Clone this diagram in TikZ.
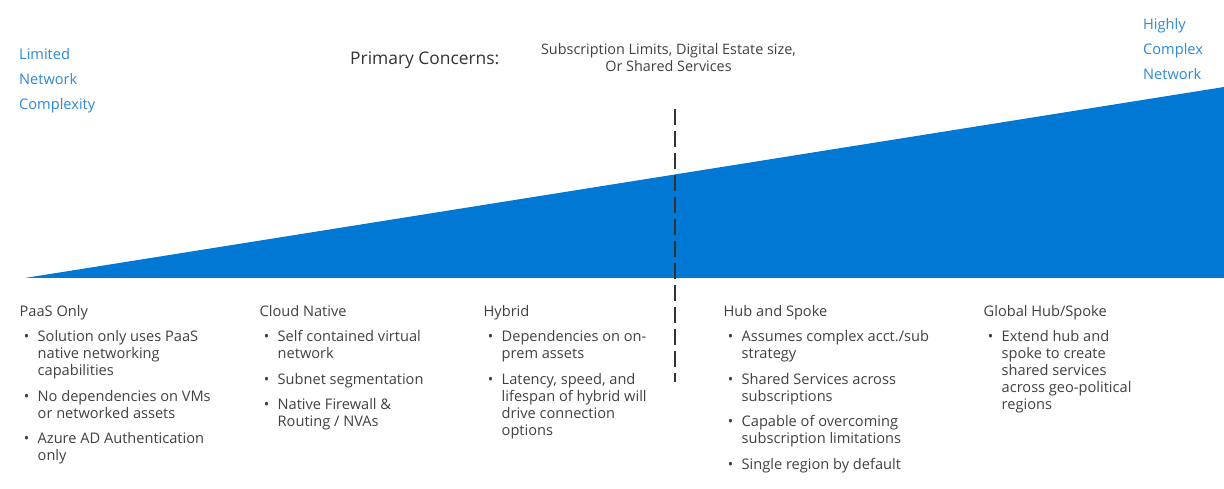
\documentclass[tikz,border=0pt]{standalone}
\usepackage{fontspec}
\setmainfont{Open Sans}
\usepackage{tikz}
\usetikzlibrary{positioning}
\definecolor{azblue}{HTML}{0078D4}
\definecolor{lblue}{HTML}{2B88D8}
\definecolor{txtgray}{HTML}{404040}
\definecolor{dashgray}{HTML}{333333}
\newcommand{\bul}{\llap{\textbullet\hspace{8.3pt}}}
\tikzset{
    colhead/.style={anchor=base west,inner sep=0pt,text=txtgray,font=\fontsize{14.6}{17}\selectfont},
    collist/.style={anchor=base west,inner sep=0pt,align=left,text=txtgray,font=\fontsize{14.6}{17}\selectfont},
    endlabel/.style={anchor=base west,inner sep=0pt,align=left,text=lblue,font=\fontsize{14.6}{25}\selectfont},
    divider/.style={draw=dashgray,line width=2.4pt,dash pattern=on 16pt off 6pt}
}

\begin{document}
\begin{tikzpicture}[x=1pt,y=-1pt]
  \useasboundingbox (0,0) rectangle (1224,489);

  \coordinate (tip) at (25,278);
  \coordinate (base) at (1224,278);
  \coordinate (peak) at (1224,87);
  \coordinate (dtop) at (675,109);
  \coordinate (dbot) at (675,382);

  % complexity wedge
  \fill[azblue] (tip) -- (base) -- (peak) -- cycle;

  % threshold
  \draw[divider] (dtop) -- (dbot);

  % end labels (base = last line)
  \node[endlabel] (low) at (19,109.5) {Limited\\Network\\Complexity};
  \node[endlabel] (high) at (1143,80) {Highly\\Complex\\Network};

  % concerns
  \node[anchor=base west,inner sep=0pt,text=dashgray,font=\fontsize{17.4}{20}\selectfont]
    (concerns) at (350,65) {Primary Concerns:};
  \node[anchor=base,inner sep=0pt,align=center,text=txtgray,font=\fontsize{14.4}{17.4}\selectfont]
    (limits) at (668.5,71.7) {Subscription Limits, Digital Estate size,\\Or Shared Services};

  % columns
  \node[colhead] (paas) at (19.5,316.7) {PaaS Only};
  \node[collist] (paaslist) at (37.5,460.7)
    {\bul Solution only uses PaaS\\native networking\\capabilities\\[8.5pt]
     \bul No dependencies on VMs\\or networked assets\\[8.5pt]
     \bul Azure AD Authentication\\only};

  \node[colhead] (cloud) at (259.5,316.7) {Cloud Native};
  \node[collist] (cloudlist) at (277.5,426.7)
    {\bul Self contained virtual\\network\\[8.5pt]
     \bul Subnet segmentation\\[8.5pt]
     \bul Native Firewall \&\\Routing / NVAs};

  \node[colhead] (hybrid) at (483.5,316.7) {Hybrid};
  \node[collist] (hybridlist) at (501.5,435.2)
    {\bul Dependencies on on-\\prem assets\\[8.5pt]
     \bul Latency, speed, and\\lifespan of hybrid will\\drive connection\\options};

  \node[colhead] (hub) at (723.5,316.7) {Hub and Spoke};
  \node[collist] (hublist) at (741.5,469.2)
    {\bul Assumes complex acct./sub\\strategy\\[8.5pt]
     \bul Shared Services across\\subscriptions\\[8.5pt]
     \bul Capable of overcoming\\subscription limitations\\[8.5pt]
     \bul Single region by default};

  \node[colhead] (global) at (983.5,316.7) {Global Hub/Spoke};
  \node[collist] (globallist) at (1001.5,409.7)
    {\bul Extend hub and\\spoke to create\\shared services\\across geo-political\\regions};
\end{tikzpicture}
\end{document}
